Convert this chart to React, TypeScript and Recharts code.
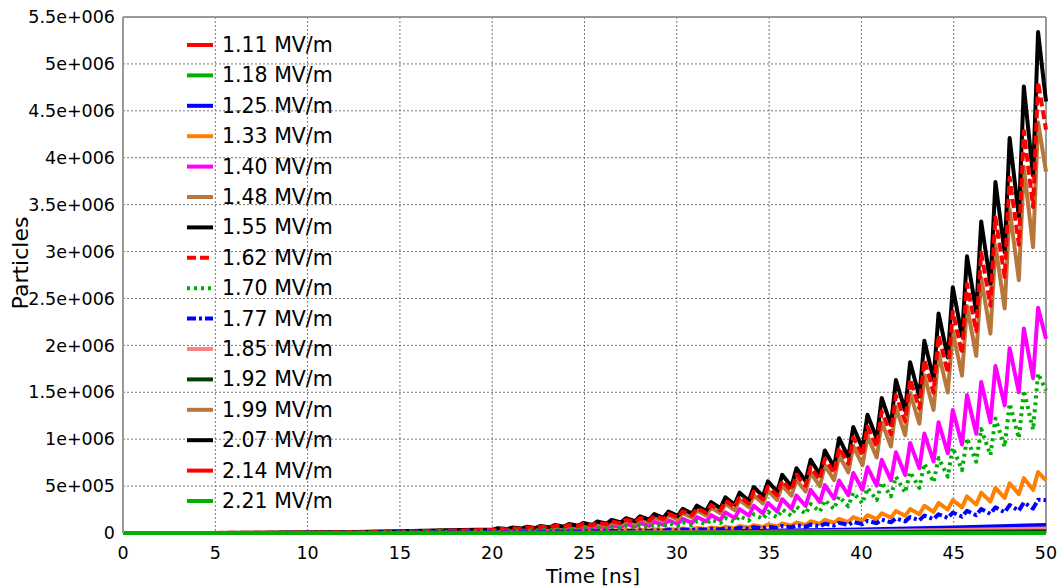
import {
  CartesianGrid,
  Line,
  LineChart,
  ReferenceLine,
  XAxis,
  YAxis,
} from "recharts";

const W = 1059;
const H = 587;
const FONT = "'DejaVu Sans', Verdana, sans-serif";

// time axis (ns): coarse start, then trough/peak instants of each RF period
const earlyTime = [0, 2.5, 5, 7.5, 10, 12.5, 15, 17.5];
const troughTime = [
  20.04, 20.81, 21.58, 22.35, 23.12, 23.89, 24.66, 25.43, 26.2, 26.97, 27.74, 28.51, 29.28,
  30.05, 30.82, 31.59, 32.36, 33.13, 33.9, 34.67, 35.44, 36.21, 36.98, 37.75, 38.52, 39.29,
  40.06, 40.83, 41.6, 42.37, 43.14, 43.91, 44.68, 45.45, 46.22, 46.99, 47.76, 48.53, 49.3,
];
const peakTime = [
  20.31, 21.08, 21.85, 22.62, 23.39, 24.16, 24.93, 25.7, 26.47, 27.24, 28.01, 28.78, 29.55,
  30.32, 31.09, 31.86, 32.63, 33.4, 34.17, 34.94, 35.71, 36.48, 37.25, 38.02, 38.79, 39.56,
  40.33, 41.1, 41.87, 42.64, 43.41, 44.18, 44.95, 45.72, 46.49, 47.26, 48.03, 48.8, 49.57,
];
const endTime = 50;

// particle counts in thousands
const early155 = [0, 0, 1, 3, 6, 11, 18, 28];
const troughs155 = [
  38, 42, 47, 53, 60, 68, 77, 87, 99, 112, 126, 143, 162,
  183, 207, 234, 264, 304, 344, 392, 440, 496, 552, 624, 704, 808,
  904, 1008, 1152, 1304, 1456, 1640, 1872, 2096, 2360, 2656, 2992, 3368, 3808,
];
const peaks155 = [
  52, 58, 66, 75, 85, 96, 108, 123, 139, 157, 178, 202, 228,
  258, 292, 330, 380, 430, 490, 550, 620, 690, 780, 880, 1010, 1130,
  1260, 1440, 1630, 1820, 2050, 2340, 2620, 2950, 3320, 3740, 4210, 4760, 5340,
];
const end155 = 4600;

const early162 = [0, 0, 1, 3, 5, 10, 16, 25];
const troughs162 = [
  34, 38, 43, 48, 55, 62, 70, 79, 90, 102, 114, 130, 147,
  167, 188, 213, 241, 277, 314, 358, 402, 453, 504, 569, 642, 737,
  825, 920, 1051, 1190, 1328, 1496, 1707, 1911, 2152, 2422, 2729, 3072, 3475,
];
const peaks162 = [
  47, 52, 59, 68, 77, 86, 97, 111, 125, 141, 160, 182, 205,
  232, 263, 297, 342, 387, 441, 495, 558, 621, 702, 792, 909, 1017,
  1134, 1296, 1467, 1638, 1845, 2106, 2358, 2655, 2988, 3366, 3789, 4284, 4806,
];
const end162 = 4300;

const early148 = [0, 0, 1, 2, 5, 9, 15, 23];
const troughs148 = [
  30, 33, 37, 42, 48, 54, 61, 69, 79, 89, 100, 114, 129,
  146, 165, 187, 211, 243, 275, 314, 352, 397, 442, 499, 563, 646,
  723, 806, 922, 1043, 1165, 1312, 1498, 1677, 1888, 2125, 2394, 2694, 3046,
];
const peaks148 = [
  43, 48, 54, 62, 70, 79, 89, 101, 114, 129, 146, 166, 187,
  212, 239, 271, 312, 353, 402, 451, 508, 566, 640, 722, 828, 927,
  1033, 1181, 1337, 1492, 1681, 1919, 2148, 2419, 2722, 3067, 3452, 3903, 4379,
];
const end148 = 3850;

const early140 = [0, 0, 0, 1, 3, 6, 10, 17];
const troughs140 = [
  22, 24, 27, 30, 33, 37, 42, 48, 54, 60, 68, 76, 86,
  96, 108, 122, 137, 158, 184, 209, 230, 259, 288, 331, 367, 403,
  461, 504, 562, 619, 691, 763, 850, 943, 1058, 1180, 1360, 1500, 1650,
];
const peaks140 = [
  33, 37, 41, 46, 52, 59, 66, 75, 84, 94, 106, 119, 134,
  150, 170, 190, 220, 255, 290, 320, 360, 400, 460, 510, 560, 640,
  700, 780, 860, 960, 1060, 1180, 1310, 1470, 1610, 1780, 1970, 2180, 2400,
];
const end140 = 2070;

const early170 = [0, 0, 0, 1, 2, 5, 8, 13];
const troughs170 = [
  17, 19, 21, 24, 27, 30, 34, 38, 42, 47, 53, 60, 67,
  75, 84, 94, 105, 118, 132, 148, 165, 183, 205, 228, 255, 285,
  315, 350, 390, 430, 480, 540, 600, 670, 760, 830, 920, 1010, 1100,
];
const peaks170 = [
  25, 28, 32, 36, 40, 45, 51, 57, 64, 72, 81, 91, 102,
  114, 128, 143, 160, 180, 200, 225, 250, 280, 310, 350, 390, 430,
  480, 540, 600, 650, 740, 800, 910, 1010, 1110, 1220, 1380, 1520, 1700,
];
const end170 = 1520;

const early133 = [0, 0, 0, 1, 2, 3, 5, 8];
const troughs133 = [
  9, 10, 11, 12, 13, 15, 16, 18, 20, 23, 25, 28, 31,
  34, 38, 42, 47, 52, 58, 64, 71, 79, 87, 98, 109, 117,
  133, 148, 164, 183, 199, 226, 250, 273, 304, 335, 374, 413, 460,
];
const peaks133 = [
  12, 14, 15, 17, 19, 21, 23, 26, 29, 32, 36, 40, 44,
  49, 54, 60, 67, 74, 82, 91, 101, 112, 125, 140, 150, 170,
  190, 210, 235, 255, 290, 320, 350, 390, 430, 480, 530, 585, 650,
];
const end133 = 560;

const early177 = [0, 0, 0, 1, 2, 3, 5, 7];
const troughs177 = [
  8, 9, 10, 10, 11, 13, 14, 15, 17, 18, 20, 22, 25,
  27, 30, 34, 37, 41, 45, 50, 54, 60, 66, 72, 79, 86,
  94, 104, 114, 124, 136, 148, 160, 174, 189, 204, 220, 238, 260,
];
const peaks177 = [
  11, 12, 13, 14, 16, 17, 19, 21, 23, 25, 28, 31, 34,
  38, 42, 46, 51, 56, 62, 68, 75, 82, 90, 99, 108, 118,
  130, 143, 155, 170, 185, 200, 218, 236, 255, 275, 298, 325, 355,
];
const end177 = 350;

// the low curves, coarse
const lowTime = [0, 5, 10, 15, 20, 25, 30, 35, 40, 45, 50];
const low125 = [0, 0, 1, 2, 4, 8, 14, 24, 38, 58, 85];
const low185 = [0, 0, 0, 1, 2, 4, 7, 12, 20, 32, 48];
const low192 = [0, 0, 0, 0, 1, 2, 3, 5, 8, 12, 18];
const lowZero = [0, 0, 0, 0, 0, 0, 0, 0, 0, 0, 0];

const xTicks = [0, 5, 10, 15, 20, 25, 30, 35, 40, 45, 50];
const yTicks = [0, 500000, 1000000, 1500000, 2000000, 2500000, 3000000, 3500000, 4000000, 4500000, 5000000, 5500000];
const yTickLabels = ["0", "5e+005", "1e+006", "1.5e+006", "2e+006", "2.5e+006", "3e+006", "3.5e+006", "4e+006", "4.5e+006", "5e+006", "5.5e+006"];

const waves = [
  { key: "f155", early: early155, troughs: troughs155, peaks: peaks155, end: end155 },
  { key: "f162", early: early162, troughs: troughs162, peaks: peaks162, end: end162 },
  { key: "f148", early: early148, troughs: troughs148, peaks: peaks148, end: end148 },
  { key: "f140", early: early140, troughs: troughs140, peaks: peaks140, end: end140 },
  { key: "f170", early: early170, troughs: troughs170, peaks: peaks170, end: end170 },
  { key: "f133", early: early133, troughs: troughs133, peaks: peaks133, end: end133 },
  { key: "f177", early: early177, troughs: troughs177, peaks: peaks177, end: end177 },
];

const rows: Record<string, number>[] = [];
earlyTime.forEach((t, i) => {
  const r: Record<string, number> = { t };
  waves.forEach((w) => (r[w.key] = w.early[i] * 1000));
  rows.push(r);
});
troughTime.forEach((t, i) => {
  const tr: Record<string, number> = { t };
  const pk: Record<string, number> = { t: peakTime[i] };
  waves.forEach((w) => {
    tr[w.key] = w.troughs[i] * 1000;
    pk[w.key] = w.peaks[i] * 1000;
  });
  rows.push(tr, pk);
});
const last: Record<string, number> = { t: endTime };
waves.forEach((w) => (last[w.key] = w.end * 1000));
rows.push(last);

const lowData = (vals: number[]) => lowTime.map((t, i) => ({ t, v: vals[i] * 1000 }));

type Series = { name: string; color: string; dash?: string; key: string; data?: { t: number; v: number }[] };

// legend order = drawing order
const series: Series[] = [
  { name: "1.11 MV/m", color: "#ff0000", key: "v", data: lowData(lowZero) },
  { name: "1.18 MV/m", color: "#00b000", key: "v", data: lowData(lowZero) },
  { name: "1.25 MV/m", color: "#0000ff", key: "v", data: lowData(low125) },
  { name: "1.33 MV/m", color: "#ff8000", key: "f133" },
  { name: "1.40 MV/m", color: "#ff00ff", key: "f140" },
  { name: "1.48 MV/m", color: "#b8773a", key: "f148" },
  { name: "1.55 MV/m", color: "#000000", key: "f155" },
  { name: "1.62 MV/m", color: "#ff0000", dash: "9 4", key: "f162" },
  { name: "1.70 MV/m", color: "#00b000", dash: "3 4", key: "f170" },
  { name: "1.77 MV/m", color: "#0000ff", dash: "9 3 3 3", key: "f177" },
  { name: "1.85 MV/m", color: "#ff8080", key: "v", data: lowData(low185) },
  { name: "1.92 MV/m", color: "#004000", key: "v", data: lowData(low192) },
  { name: "1.99 MV/m", color: "#b8773a", key: "v", data: lowData(lowZero) },
  { name: "2.07 MV/m", color: "#000000", key: "v", data: lowData(lowZero) },
  { name: "2.14 MV/m", color: "#ff0000", key: "v", data: lowData(lowZero) },
  { name: "2.21 MV/m", color: "#00b000", key: "v", data: lowData(lowZero) },
];

export default function App() {
  return (
    <div style={{ position: "absolute", left: 0, top: 0, width: W, height: H, background: "#fff" }}>
      <LineChart
        width={W}
        height={H}
        data={rows}
        margin={{ top: 17, right: 13, bottom: 0, left: 0 }}
        style={{ fontFamily: FONT }}
      >
        <CartesianGrid stroke="#777" strokeDasharray="2 2" strokeWidth={1} />
        <XAxis
          type="number"
          dataKey="t"
          domain={[0, 50]}
          ticks={xTicks}
          height={54}
          tickLine={false}
          tickMargin={8}
          axisLine={false}
          tick={{ fontSize: 17.5, fill: "#000", fontFamily: FONT }}
        />
        <YAxis
          type="number"
          domain={[0, 5500000]}
          ticks={yTicks}
          width={123}
          tickLine={false}
          axisLine={{ stroke: "#999", strokeWidth: 2 }}
          tick={{ fontSize: 17.5, fill: "#000", fontFamily: FONT }}
          tickFormatter={(v: number) => yTickLabels[yTicks.indexOf(v)] ?? String(v)}
        />
        <ReferenceLine y={5500000} stroke="#999" strokeWidth={2} />
        <ReferenceLine x={50} stroke="#999" strokeWidth={2} />
        {series.map((s) => (
          <Line
            key={s.name}
            data={s.data}
            dataKey={s.key}
            name={s.name}
            type="linear"
            stroke={s.color}
            strokeWidth={4}
            strokeDasharray={s.dash}
            strokeLinejoin="round"
            dot={false}
            activeDot={false}
            isAnimationActive={false}
          />
        ))}
      </LineChart>
      <svg
        width={W}
        height={H}
        style={{ position: "absolute", left: 0, top: 0, pointerEvents: "none", fontFamily: FONT }}
      >
        {series.map((s, i) => {
          const y = 45 + i * 30.4;
          return (
            <g key={s.name}>
              <line x1={187} x2={213} y1={y} y2={y} stroke={s.color} strokeWidth={4} strokeDasharray={s.dash} />
              <text x={222} y={y} fontSize={20.5} fill="#000" dominantBaseline="central">
                {s.name}
              </text>
            </g>
          );
        })}
        <text x={593} y={583} fontSize={20} textAnchor="middle" fill="#000">
          Time [ns]
        </text>
        <text
          x={20}
          y={263}
          fontSize={22}
          textAnchor="middle"
          dominantBaseline="central"
          fill="#000"
          transform="rotate(-90 20 263)"
        >
          Particles
        </text>
      </svg>
    </div>
  );
}
